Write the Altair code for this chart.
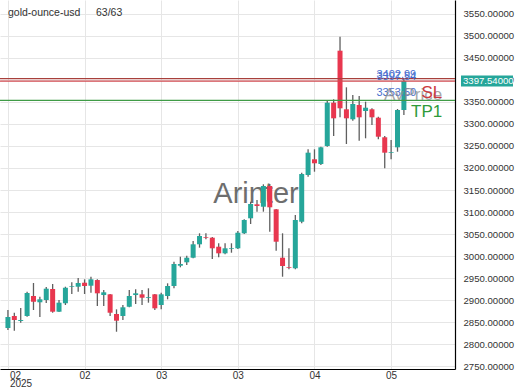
import altair as alt
import pandas as pd
import json

opens = [2836.3, 2863.6, 2852.3, 2863.6, 2909.1, 2894.8, 2900.0, 2925.0, 2873.4, 2892.5,
         2929.5, 2930.2, 2939.3, 2932.5, 2945.4, 2911.3, 2912.9, 2868.2, 2863.6, 2884.8,
         2911.3, 2912.9, 2904.5, 2912.9, 2888.6, 2909.1, 2931.8, 2977.9, 2985.7, 2996.1,
         3026.6, 3043.2, 3041.6, 3021.1, 3006.1, 3016.6, 3017.5, 3051.6, 3085.7, 3117.5,
         3112.0, 3159.1, 3106.1, 2996.1, 2975.0, 2972.1, 3077.9, 3184.1, 3219.8, 3209.1,
         3250.0, 3348.4, 3466.6, 3333.4, 3310.7, 3343.2, 3329.5, 3333.4, 3314.3, 3269.8,
         3234.1, 3247.0, 3331.8]
closes = [2861.4, 2854.5, 2854.5, 2915.9, 2896.1, 2901.6, 2925.7, 2873.4, 2893.9, 2927.9,
          2931.1, 2938.6, 2931.8, 2947.0, 2915.2, 2917.5, 2871.1, 2853.0, 2883.4, 2909.1,
          2915.2, 2905.2, 2906.3, 2881.1, 2912.9, 2931.8, 2981.8, 2981.8, 2996.1, 3026.6,
          3045.4, 3041.6, 3017.5, 3006.1, 3017.5, 3018.2, 3052.9, 3081.8, 3118.2, 3113.6,
          3159.1, 3110.7, 3032.5, 2977.3, 2973.4, 3081.8, 3186.3, 3234.8, 3210.7, 3247.0,
          3348.4, 3312.9, 3335.7, 3312.9, 3345.4, 3315.2, 3337.0, 3315.2, 3271.1, 3234.8,
          3235.7, 3331.8, 3397.54]
highs = [2877.3, 2871.1, 2881.8, 2918.9, 2938.6, 2907.5, 2929.5, 2936.4, 2900.0, 2930.2,
         2940.2, 2949.9, 2947.0, 2952.9, 2947.0, 2922.7, 2913.6, 2878.8, 2888.6, 2922.7,
         2924.3, 2922.7, 2926.6, 2913.6, 2916.6, 2937.9, 2987.0, 2998.4, 3000.7, 3034.1,
         3051.6, 3051.6, 3043.2, 3028.9, 3028.9, 3028.9, 3056.8, 3083.4, 3123.4, 3127.3,
         3162.9, 3163.6, 3106.8, 3051.6, 3017.5, 3093.2, 3189.3, 3242.5, 3242.5, 3248.4,
         3354.5, 3356.1, 3498.4, 3383.4, 3365.9, 3363.6, 3350.7, 3335.7, 3316.6, 3272.7,
         3263.6, 3334.1, 3403.0]
lows = [2831.8, 2830.2, 2848.4, 2862.0, 2877.3, 2861.4, 2893.2, 2871.1, 2872.7, 2888.6,
        2913.6, 2918.9, 2913.6, 2916.6, 2886.3, 2886.3, 2863.6, 2827.9, 2854.5, 2883.4,
        2890.9, 2888.6, 2893.9, 2877.3, 2878.8, 2901.6, 2926.6, 2974.3, 2979.5, 2994.8,
        3018.9, 3037.9, 2993.2, 2997.0, 3003.8, 3007.5, 3015.9, 3050.0, 3072.7, 3100.7,
        3100.7, 3055.2, 3012.0, 2952.9, 2969.8, 2969.8, 3074.3, 3180.2, 3191.6, 3206.8,
        3248.4, 3272.7, 3315.2, 3254.5, 3307.5, 3262.0, 3267.5, 3297.7, 3265.2, 3199.3,
        3219.8, 3237.0, 3320.4]

tick_idx = [0, 12, 24, 36, 48, 60]
tick_labels = [["02", "2025"], "02", "03", "03", "04", "05"]
y_ticks = [2750, 2800, 2850, 2900, 2950, 3000, 3050, 3100, 3150, 3200,
           3250, 3300, 3350, 3400, 3450, 3500, 3550]

line_prices = [3402.99, 3397.54, 3353.50]
line_colors = ["#a8403c", "#d24a50", "#3f9b46"]
line_labels = ["3402.99", "3397.54", "3353.50"]

symbol = "gold-ounce-usd"
counter = "63/63"
watermark = "Arinter"
last_price = 3397.54

UP = "#26a69a"
DOWN = "#e8374f"

df = pd.DataFrame({"i": list(range(len(opens))), "open": opens, "close": closes,
                   "high": highs, "low": lows})
df["color"] = [UP if c >= o else DOWN for o, c in zip(opens, closes)]

expr = "''"
for v, lab in reversed(list(zip(tick_idx, tick_labels))):
    expr = f"datum.value == {v} ? {json.dumps(lab)} : ({expr})"

xscale = alt.Scale(domain=[-0.46, 69.22], nice=False, zero=False)
yscale = alt.Scale(domain=[2743.2, 3581.8], nice=False, zero=False)

first = f"datum.value == {tick_idx[0]}"
XAXIS = alt.Axis(values=tick_idx, labelExpr=expr, grid=True, ticks=False,
                 gridColor="#e6e6e6", domainColor="#000", domainWidth=1.2,
                 labelFont="Liberation Sans", labelFontSize=10, labelColor="#333",
                 labelAlign={"condition": {"test": first, "value": "left"}, "value": "center"},
                 labelOffset={"condition": {"test": first, "value": 1.5}, "value": 0},
                 labelPadding=1, labelLineHeight=8, labelBound=False,
                 labelOverlap=False, title=None)
YAXIS = alt.Axis(orient="right", values=y_ticks, format=".5f", grid=True, ticks=False,
                 gridColor="#e6e6e6", domainColor="#000", domainWidth=1.2,
                 labelFont="Liberation Sans", labelFontSize=9.6, labelColor="#333",
                 labelPadding=8, labelOverlap=False, title=None)


def ys(field):
    return alt.Y(field, scale=yscale, axis=YAXIS)


def xs(field):
    return alt.X(field, scale=xscale, axis=XAXIS)


base = alt.Chart(df)

wm = alt.Chart(pd.DataFrame({"t": [watermark]})).mark_text(
    font="Liberation Sans", fontSize=29, color="#555", opacity=0.85,
    align="center", baseline="alphabetic").encode(
    x=alt.value(256), y=alt.value(203), text="t:N")

wicks = base.mark_rule(color="#5f5f5f", strokeWidth=1.3).encode(
    x=xs("i:Q"), y=ys("low:Q"), y2="high:Q")
bodies = base.mark_bar(size=5).encode(
    x=xs("i:Q"), y=ys("open:Q"), y2="close:Q",
    color=alt.Color("color:N", scale=None))

ldf = pd.DataFrame({"p": line_prices, "c": line_colors, "t": line_labels,
                    "i": [57.7, 57.7, 57.7]})
hlines = alt.Chart(ldf).mark_rule(strokeWidth=1.2).encode(
    y=ys("p:Q"), color=alt.Color("c:N", scale=None))


def blue(row, dy):
    return alt.Chart(ldf.iloc[[row]]).mark_text(
        font="Liberation Sans", fontSize=11, color="#4a6fd0", align="left",
        baseline="middle", dy=dy).encode(
        x=xs("i:Q"), y=ys("p:Q"), text="t:N")


ltext_a = blue(0, -4)
ltext_b = blue(1, -4)
ltext_c = blue(2, -7)

tags = pd.DataFrame({"t": ["AvPrice", "SL", "TP1"],
                     "p": [last_price, last_price, line_prices[2]],
                     "i": [68.0, 68.0, 68.0],
                     "c": ["#8a8a8a", "#cc3a40", "#2f9a3a"]})


def tag(row, dy, op=1.0):
    return alt.Chart(tags.iloc[[row]]).mark_text(
        font="Liberation Sans", fontSize=17, align="right", baseline="alphabetic",
        dy=dy, opacity=op).encode(
        x=xs("i:Q"), y=ys("p:Q"), text="t:N",
        color=alt.Color("c:N", scale=None))


avp = tag(0, 19, 0.75)
sl = tag(1, 17)
tp = tag(2, 16.5)

pdf = pd.DataFrame({"p": [last_price], "t": [f"{last_price:.5f}"]})
pbox = alt.Chart(pdf).mark_rule(color=UP, strokeWidth=11, strokeCap="butt").encode(
    x=alt.value(461), x2=alt.value(513), y=ys("p:Q"))
ptext = alt.Chart(pdf).mark_text(
    font="Liberation Sans", fontSize=9.6, color="white", align="left",
    baseline="middle").encode(
    x=alt.value(463), y=ys("p:Q"), text="t:N")

hdr = alt.Chart(pd.DataFrame({"t": [symbol, counter], "x": [8, 96]})).mark_text(
    font="Liberation Sans", fontSize=10.5, color="#333", align="left",
    baseline="middle").encode(
    x=alt.X("x:Q", scale=None), y=alt.value(13), text="t:N")

chart = alt.layer(
    wm, wicks, bodies, hlines, ltext_a, ltext_b, ltext_c, avp, sl, tp, pbox, ptext, hdr
).properties(
    width=455, height=369,
    padding={"left": 0, "top": 0, "right": 65, "bottom": 21},
    autosize=alt.AutoSizeParams(type="none"),
).configure_view(stroke=None)

chart.save("out.html", embed_options={"renderer": "svg", "actions": False})
